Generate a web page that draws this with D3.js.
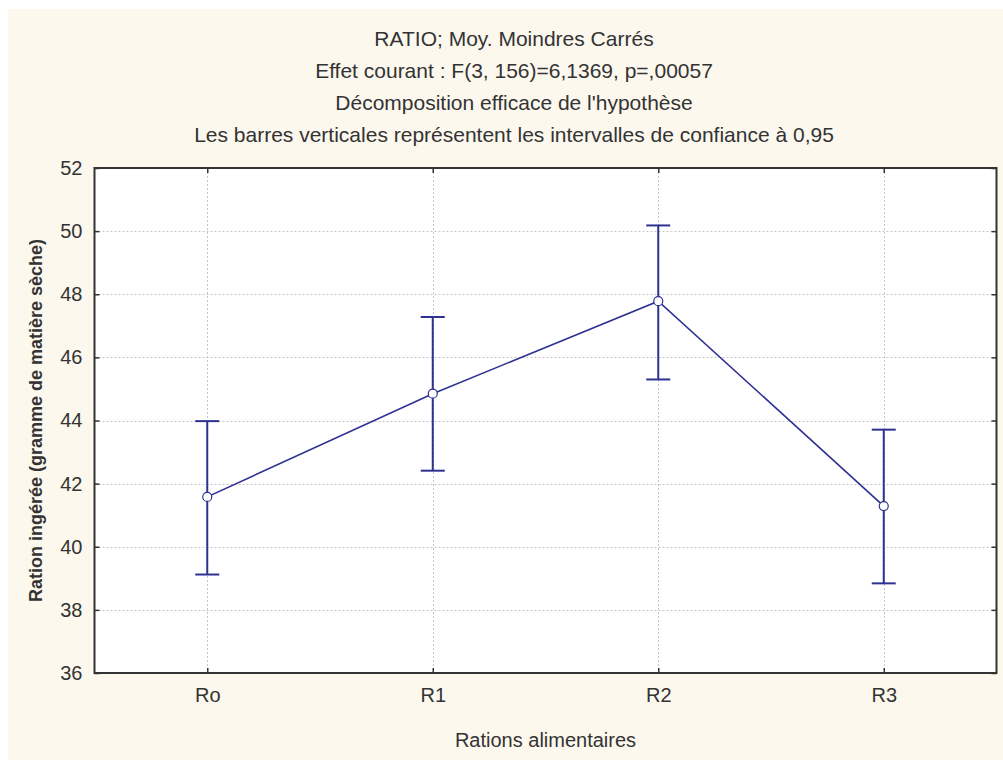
<!DOCTYPE html>
<html>
<head>
<meta charset="utf-8">
<script src="https://cdn.jsdelivr.net/npm/d3@7/dist/d3.min.js"></script>
<style>
  html, body { margin: 0; padding: 0; background: #ffffff; }
  svg { display: block; }
  text { font-family: "Liberation Sans", Arial, Helvetica, sans-serif; fill: #333; }
</style>
</head>
<body>
<script>
// Mean intake per ration with 95% confidence intervals
const categories = ["Ro", "R1", "R2", "R3"];
const means = [41.58, 44.85, 47.78, 41.29];
const ciLow = [39.12, 42.41, 45.30, 38.84];
const ciHigh = [43.98, 47.28, 50.18, 43.71];
const yTicks = [36, 38, 40, 42, 44, 46, 48, 50, 52];
const titleLines = [
  "RATIO; Moy. Moindres Carrés",
  "Effet courant : F(3, 156)=6,1369, p=,00057",
  "Décomposition efficace de l'hypothèse",
  "Les barres verticales représentent les intervalles de confiance à 0,95"
];

const W = 1003, H = 760;
const plot = { left: 94.5, right: 996.5, top: 168, bottom: 673 };

const svg = d3.select("body").append("svg").attr("width", W).attr("height", H);

svg.append("rect").attr("x", 8).attr("y", 9).attr("width", W - 8).attr("height", H - 9)
  .attr("fill", "#fcf8ee");

svg.append("rect").attr("x", plot.left).attr("y", plot.top)
  .attr("width", plot.right - plot.left).attr("height", plot.bottom - plot.top)
  .attr("fill", "#ffffff");

const x = d3.scalePoint().domain(categories).range([plot.left, plot.right]).padding(0.5);
const y = d3.scaleLinear().domain([36, 52]).range([plot.bottom, plot.top]);

// grid
const grid = svg.append("g").attr("stroke", "#c8c4c4").attr("stroke-width", 1)
  .attr("stroke-dasharray", "2,2");
grid.selectAll("line.h").data(yTicks.slice(1, -1)).join("line")
  .attr("x1", plot.left).attr("x2", plot.right)
  .attr("y1", d => Math.round(y(d)) + 0.5).attr("y2", d => Math.round(y(d)) + 0.5);
grid.selectAll("line.v").data(categories).join("line")
  .attr("y1", plot.top).attr("y2", plot.bottom)
  .attr("x1", d => Math.round(x(d)) + 0.5).attr("x2", d => Math.round(x(d)) + 0.5);

// axes with inward ticks on all four sides
const axisStyle = g => {
  g.select(".domain").remove();
  g.selectAll(".tick line").attr("stroke", "#333").attr("stroke-width", 1.5);
  g.selectAll(".tick text").style("font-size", "20px").attr("fill", "#333");
};
svg.append("g").attr("transform", `translate(${plot.left},0)`)
  .call(d3.axisLeft(y).tickValues(yTicks).tickSizeInner(-5).tickSizeOuter(0).tickPadding(12))
  .call(axisStyle);
svg.append("g").attr("transform", `translate(${plot.right},0)`)
  .call(d3.axisRight(y).tickValues(yTicks).tickSizeInner(-5).tickSizeOuter(0).tickFormat(""))
  .call(axisStyle);
svg.append("g").attr("transform", `translate(0,${plot.bottom})`)
  .call(d3.axisBottom(x).tickSizeInner(-5).tickSizeOuter(0).tickPadding(15))
  .call(axisStyle);
svg.append("g").attr("transform", `translate(0,${plot.top})`)
  .call(d3.axisTop(x).tickSizeInner(-5).tickSizeOuter(0).tickFormat(""))
  .call(axisStyle);

svg.append("rect").attr("x", plot.left).attr("y", plot.top)
  .attr("width", plot.right - plot.left).attr("height", plot.bottom - plot.top)
  .attr("fill", "none").attr("stroke", "#333").attr("stroke-width", 2);

// error bars
const blue = "#2e3192";
const bars = svg.append("g").attr("stroke", blue).attr("stroke-width", 2);
categories.forEach((c, i) => {
  const cx = x(c);
  bars.append("line").attr("x1", cx).attr("x2", cx).attr("y1", y(ciLow[i])).attr("y2", y(ciHigh[i]));
  bars.append("line").attr("x1", cx - 12).attr("x2", cx + 12).attr("y1", y(ciLow[i])).attr("y2", y(ciLow[i]));
  bars.append("line").attr("x1", cx - 12).attr("x2", cx + 12).attr("y1", y(ciHigh[i])).attr("y2", y(ciHigh[i]));
});

// mean line and markers
const line = d3.line().x((d, i) => x(categories[i])).y(d => y(d));
svg.append("path").datum(means).attr("d", line)
  .attr("fill", "none").attr("stroke", blue).attr("stroke-width", 1.6);
svg.selectAll("circle.m").data(means).join("circle")
  .attr("cx", (d, i) => x(categories[i])).attr("cy", d => y(d)).attr("r", 4.5)
  .attr("fill", "#ffffff").attr("stroke", blue).attr("stroke-width", 1.2);

// titles
const titleYs = [46, 78, 110, 142];
svg.selectAll("text.title").data(titleLines).join("text")
  .attr("x", 514).attr("y", (d, i) => titleYs[i]).attr("text-anchor", "middle")
  .style("font-size", "21px").text(d => d);

svg.append("text").attr("x", (plot.left + plot.right) / 2).attr("y", 747)
  .attr("text-anchor", "middle").style("font-size", "20px").text("Rations alimentaires");

svg.append("text").attr("transform", `translate(42,${(plot.top + plot.bottom) / 2}) rotate(-90)`)
  .attr("text-anchor", "middle").style("font-size", "18px").style("font-weight", "bold")
  .text("Ration ingérée (gramme de matière sèche)");
</script>
</body>
</html>
